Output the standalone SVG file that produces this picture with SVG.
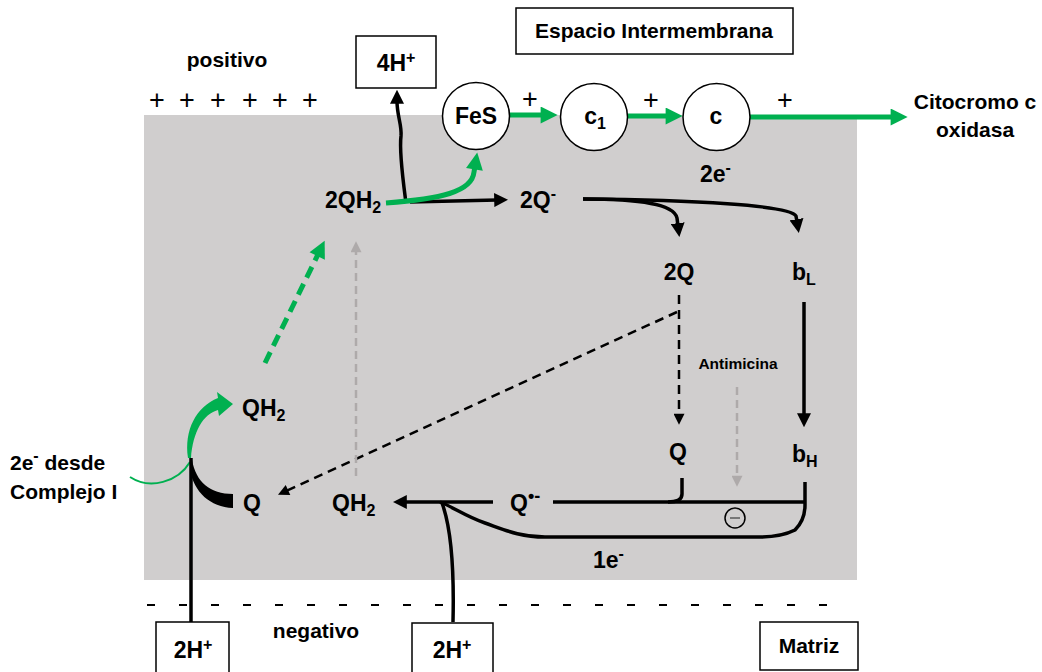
<svg xmlns="http://www.w3.org/2000/svg" width="1042" height="672" viewBox="0 0 1042 672">
<style>
.t{font-family:"Liberation Sans",Arial,sans-serif;font-weight:bold;font-size:23px;fill:#000}
.m{font-size:21px}
.s{font-size:16px}
.mid{text-anchor:middle}
.pl{font-family:"Liberation Sans",Arial,sans-serif;font-size:27px;fill:#000;text-anchor:middle}
.box{fill:#fff;stroke:#000;stroke-width:1.5}
.circ{fill:#fff;stroke:#000;stroke-width:1.5}
.bk{fill:none;stroke:#000;stroke-width:3.5}
.gr{fill:none;stroke:#00B050;stroke-width:5}
.dsh{fill:none;stroke:#000;stroke-width:2.5;stroke-dasharray:9 6}
.gdsh{fill:none;stroke:#AEAAAA;stroke-width:2.5;stroke-dasharray:8 5}
.gdash{fill:none;stroke:#00B050;stroke-width:5;stroke-dasharray:12 7}
</style>
<defs>
<marker id="ab" viewBox="0 0 10 10" refX="2" refY="5" markerUnits="userSpaceOnUse" markerWidth="14" markerHeight="14" orient="auto"><path d="M0,0 L10,5 L0,10 z" fill="#000"/></marker>
<marker id="abs" viewBox="0 0 10 10" refX="2" refY="5" markerUnits="userSpaceOnUse" markerWidth="12" markerHeight="11" orient="auto"><path d="M0,0 L10,5 L0,10 z" fill="#000"/></marker>
<marker id="ag" viewBox="0 0 10 10" refX="2" refY="5" markerUnits="userSpaceOnUse" markerWidth="18" markerHeight="17" orient="auto"><path d="M0,0 L10,5 L0,10 z" fill="#00B050"/></marker>
<marker id="agr" viewBox="0 0 10 10" refX="2" refY="5" markerUnits="userSpaceOnUse" markerWidth="12" markerHeight="11" orient="auto"><path d="M0,0 L10,5 L0,10 z" fill="#AEAAAA"/></marker>
</defs>
<rect width="1042" height="672" fill="#fff"/>
<rect id="membrana" x="144" y="115" width="713" height="465" fill="#D0CECE"/>

<g id="signos">
<text class="t m mid" x="227" y="67">positivo</text>
<text class="pl" x="157" y="109">+</text>
<text class="pl" x="187" y="109">+</text>
<text class="pl" x="218" y="109">+</text>
<text class="pl" x="250" y="109">+</text>
<text class="pl" x="280" y="109">+</text>
<text class="pl" x="310" y="109">+</text>
<text class="pl" x="530" y="108">+</text>
<text class="pl" x="651" y="109">+</text>
<text class="pl" x="785" y="109">+</text>
<line x1="147" y1="605" x2="842" y2="605" stroke="#000" stroke-width="2.2" stroke-dasharray="8 24"/>
<text class="t m mid" x="316" y="638">negativo</text>
</g>

<g id="connectors">
<path class="gr" d="M510,115 L544,115" marker-end="url(#ag)"/>
<path class="gr" d="M627,116 L669,116" marker-end="url(#ag)"/>
<path class="gr" d="M750,117 L894,117" marker-end="url(#ag)"/>
<path class="bk" d="M406,203 C403,180 399,152 401,136 C402,125 397,116 397,101" marker-end="url(#ab)"/>
<path class="bk" d="M410,202 L497,200" marker-end="url(#ab)"/>
<path class="gr" d="M386,203 C440,199 472,192 474,172 L475,166" marker-end="url(#ag)"/>
<path class="bk" d="M583,199 C635,199 674,203 677,218 L678,226" marker-end="url(#ab)"/>
<path class="bk" d="M583,199 C690,200 790,205 796,216 L797,222" marker-end="url(#ab)"/>
<path class="bk" d="M804,302 L804,416" marker-end="url(#ab)"/>
<path class="dsh" d="M679,295 L679,416" marker-end="url(#abs)"/>
<path class="dsh" d="M677,312 L286,491" marker-end="url(#abs)"/>
<path class="gdsh" d="M356,476 L356,250" marker-end="url(#agr)"/>
<path class="gdsh" d="M737,387 L737,478" marker-end="url(#agr)"/>
<path class="gdash" d="M265,363 L318.7,252.9" marker-end="url(#ag)"/>
<path d="M130,477 C150,490 178,482 190,462" fill="none" stroke="#00B050" stroke-width="2"/>
<path d="M188,458 C184,430 196,407 218,398 L217,392 L233,404 L219,416 L218,410 C203,414 193,432 191,458 Z" fill="#00B050"/>
<path class="bk" d="M191,625 L191,458"/>
<path d="M192,460 C196,482 210,494 233,494 L233,508 C210,507 194,492 190,470 Z" fill="#000"/>
<path class="bk" d="M493,502 L404,502" marker-end="url(#ab)"/>
<path class="bk" d="M553,502 L805,502"/>
<path class="bk" d="M682,478 L682,494 C682,500 676,502 668,502"/>
<path class="bk" d="M805,482 L805,505 C805,518 800,525 795,530 C785,535 775,537 760,537 L545,537 C520,537 505,530 485,523 C465,516 455,508 440,502"/>
<path class="bk" d="M453,622 C454,580 452,530 442,503"/>
<circle cx="735" cy="518" r="10" fill="none" stroke="#000" stroke-width="1.5"/>
<line x1="730" y1="518" x2="740" y2="518" stroke="#777" stroke-width="2"/>
</g>

<g id="espacio"><rect class="box" x="516" y="8" width="277" height="46"/><text class="t m mid" x="654" y="38">Espacio Intermembrana</text></g>
<g id="h4"><rect class="box" x="356" y="36" width="80" height="52"/><text class="t mid" x="396" y="71">4H<tspan class="s" dy="-8">+</tspan></text></g>
<g id="fes"><circle class="circ" cx="476" cy="116" r="33.5"/><text class="t mid" x="476" y="124">FeS</text></g>
<g id="c1"><circle class="circ" cx="594" cy="117" r="33.5"/><text class="t mid" x="595" y="124">c<tspan class="s" dy="5">1</tspan></text></g>
<g id="c"><circle class="circ" cx="716.5" cy="117" r="33.5"/><text class="t mid" x="716" y="124">c</text></g>
<g id="cox"><text class="t m mid" x="975" y="109">Citocromo c</text><text class="t m mid" x="975" y="137">oxidasa</text></g>
<g id="e2"><text class="t" x="700" y="182">2e<tspan class="s" dy="-9">-</tspan></text></g>
<g id="qh2top"><text class="t" x="325" y="208">2QH<tspan class="s" dy="5">2</tspan></text></g>
<g id="q2minus"><text class="t" x="520" y="208">2Q<tspan class="s" dy="-9">-</tspan></text></g>
<g id="q2"><text class="t mid" x="679" y="280">2Q</text></g>
<g id="bl"><text class="t" x="792" y="280">b<tspan class="s" dy="5">L</tspan></text></g>
<g id="antimicina"><text class="t mid" x="738" y="369" style="font-size:15.5px">Antimicina</text></g>
<g id="qmid"><text class="t mid" x="678" y="460">Q</text></g>
<g id="bh"><text class="t" x="792" y="462">b<tspan class="s" dy="5">H</tspan></text></g>
<g id="qrad"><text class="t" x="510" y="511">Q<tspan class="s" dy="-9" style="font-size:18px">•-</tspan></text></g>
<g id="qh2low"><text class="t" x="332" y="511">QH<tspan class="s" dy="5">2</tspan></text></g>
<g id="qleft"><text class="t" x="243" y="511">Q</text></g>
<g id="qh2left"><text class="t" x="242" y="416">QH<tspan class="s" dy="5">2</tspan></text></g>
<g id="complejo"><text class="t m" x="10" y="470">2e<tspan class="s" dy="-9">-</tspan><tspan dy="9"> desde</tspan></text><text class="t m" x="10" y="499">Complejo I</text></g>
<g id="e1"><text class="t" x="593" y="568">1e<tspan class="s" dy="-9">-</tspan></text></g>
<g id="h2a"><rect class="box" x="156" y="622" width="73" height="60"/><text class="t mid" x="193" y="658">2H<tspan class="s" dy="-8">+</tspan></text></g>
<g id="h2b"><rect class="box" x="412" y="623" width="81" height="60"/><text class="t mid" x="452" y="658">2H<tspan class="s" dy="-8">+</tspan></text></g>
<g id="matriz"><rect class="box" x="760" y="622" width="98" height="48"/><text class="t m mid" x="809" y="653">Matriz</text></g>
</svg>
